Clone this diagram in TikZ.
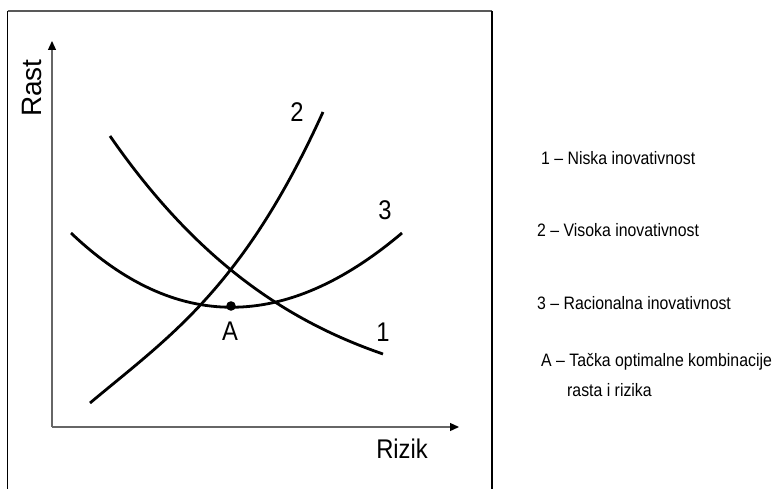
\documentclass[tikz,border=0pt]{standalone}
\usepackage{fontspec}
\setmainfont{Liberation Sans}[FakeStretch=0.88]
\newfontfamily\widefont{Liberation Sans}
\usetikzlibrary{arrows.meta}

\begin{document}
\begin{tikzpicture}[x=1pt,y=-1pt,font=\fontsize{18}{21}\selectfont,
  curve/.style={line width=2.8pt},
  axis/.style={draw=black!60,line width=1.3pt,-{Triangle[length=9pt,width=8pt,color=black]}},
  numlbl/.style={font=\fontsize{27}{30}\selectfont},
  legend/.style={anchor=west,inner sep=0pt}]
\useasboundingbox (0,0) rectangle (783,489);
% frame
\draw[black!65,line width=1.2pt] (7.5,11) -- (492,11);
\draw[line width=1.4pt] (7.5,11) -- (7.5,495);
\draw[line width=1.4pt] (492,11) -- (492,495);
% axes
\coordinate (O) at (52,427);
\coordinate (ytop) at (52,41);
\coordinate (xend) at (459,427);
\draw[axis] (O) -- (ytop);
\draw[axis] (O) -- (xend);
\node[rotate=90,font=\widefont\fontsize{28}{30}\selectfont] (rast) at (32,88) {Rast};
\node[font=\fontsize{27}{30}\selectfont] (rizik) at (402,449) {Rizik};
% curves
\draw[curve] (90,403) .. controls (170,336) and (243,288) .. (323,112);
\draw[curve] (110,136) .. controls (200,266) and (293,323) .. (383,354);
\draw[curve] (71,233) .. controls (175,332) and (285,332) .. (402,233);
\coordinate (ptA) at (231,306);
\fill (ptA) circle (4.8);
\node[numlbl] (lab2) at (297,112) {2};
\node[numlbl] (lab3) at (385,210) {3};
\node[numlbl] (lab1) at (383,332) {1};
\node[numlbl] (labA) at (230,331) {A};
% legend
\node[legend] (leg1) at (541,158) {1 -- Niska inovativnost};
\node[legend] (leg2) at (537,230) {2 -- Visoka inovativnost};
\node[legend] (leg3) at (537,303) {3 -- Racionalna inovativnost};
\node[legend] (legA) at (541,362) {A -- Tačka optimalne kombinacije};
\node[legend] (legAb) at (567,390) {rasta i rizika};
\end{tikzpicture}
\end{document}
